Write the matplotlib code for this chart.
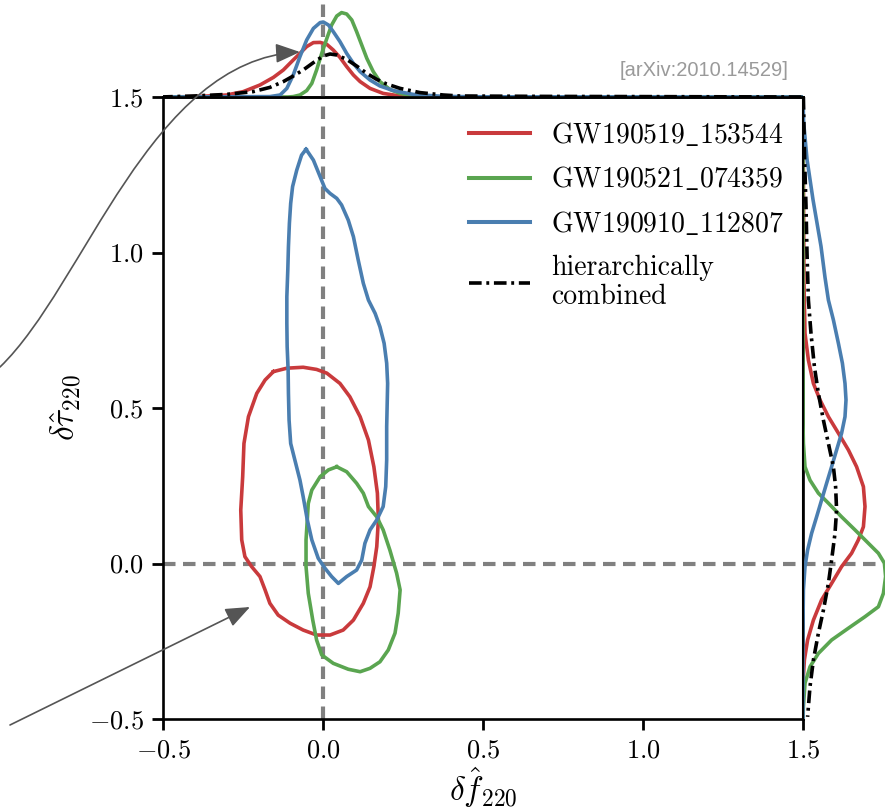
import numpy as np
import matplotlib
matplotlib.use('Agg')
import matplotlib.pyplot as plt
from matplotlib.patches import FancyArrowPatch
from matplotlib.path import Path

plt.rcParams['font.family'] = 'serif'
plt.rcParams['font.serif'] = ['cmr10']
plt.rcParams['mathtext.fontset'] = 'cm'
plt.rcParams['axes.formatter.use_mathtext'] = True

# ---- data ----
events = ['GW190519_153544', 'GW190521_074359', 'GW190910_112807']
colors = ['#c93a3c', '#5aa550', '#4a7eb0']
combined_label = 'hierarchically\ncombined'

# 90% credible contours (delta f, delta tau)
red_cx = [-0.155, -0.113, -0.062, -0.020, 0.012, 0.053, 0.084, 0.116, 0.142, 0.159,
          0.170, 0.173, 0.168, 0.159, 0.147, 0.126, 0.095, 0.063, 0.022, -0.020,
          -0.062, -0.103, -0.140, -0.166, -0.181, -0.197, -0.223, -0.244, -0.254, -0.257,
          -0.251, -0.247, -0.233, -0.207, -0.181]
red_cy = [0.617, 0.628, 0.631, 0.624, 0.612, 0.579, 0.536, 0.472, 0.397, 0.311,
          0.226, 0.140, 0.054, -0.010, -0.075, -0.128, -0.182, -0.214, -0.230, -0.230,
          -0.214, -0.192, -0.166, -0.128, -0.085, -0.042, -0.010, 0.022, 0.076, 0.172,
          0.279, 0.386, 0.472, 0.547, 0.590]

green_cx = [0.043, 0.074, 0.105, 0.126, 0.142, 0.168, 0.188, 0.209, 0.230, 0.241,
            0.235, 0.225, 0.204, 0.178, 0.147, 0.116, 0.079, 0.032, -0.004, -0.020,
            -0.032, -0.046, -0.053, -0.053, -0.046, -0.035, -0.009, 0.017]
green_cy = [0.311, 0.295, 0.258, 0.226, 0.183, 0.150, 0.108, 0.043, -0.031, -0.085,
            -0.160, -0.224, -0.278, -0.316, -0.337, -0.348, -0.340, -0.321, -0.294, -0.246,
            -0.182, -0.096, -0.010, 0.076, 0.193, 0.236, 0.279, 0.301]

blue_cx = [-0.053, -0.030, -0.009, 0.006, 0.022, 0.043, 0.058, 0.079, 0.095, 0.110,
           0.126, 0.142, 0.163, 0.178, 0.191, 0.199, 0.202, 0.199, 0.199, 0.196,
           0.188, 0.168, 0.147, 0.131, 0.121, 0.105, 0.074, 0.048, 0.027, 0.006,
           -0.015, -0.035, -0.049, -0.062, -0.072, -0.088, -0.101, -0.106, -0.108, -0.109,
           -0.112, -0.113, -0.113, -0.110, -0.108, -0.105, -0.101, -0.095, -0.082, -0.067]
blue_cy = [1.332, 1.297, 1.244, 1.206, 1.190, 1.174, 1.153, 1.104, 1.051, 0.976,
           0.901, 0.847, 0.804, 0.761, 0.708, 0.644, 0.579, 0.440, 0.333, 0.247,
           0.183, 0.140, 0.108, 0.065, 0.011, -0.021, -0.042, -0.064, -0.042, -0.015,
           0.017, 0.076, 0.140, 0.215, 0.268, 0.333, 0.386, 0.461, 0.547, 0.622,
           0.697, 0.772, 0.858, 0.944, 1.019, 1.094, 1.158, 1.212, 1.265, 1.313]

# marginal on delta f (top), arbitrary density units
red_fx = [-0.5, -0.40, -0.301, -0.249, -0.197, -0.155, -0.124, -0.093, -0.072, -0.051,
          -0.030, -0.009, 0.012, 0.032, 0.053, 0.074, 0.095, 0.116, 0.147, 0.188,
          0.241, 0.32, 1.5]
red_fp = [0.0, 0.02, 0.1, 0.27, 0.6, 0.98, 1.35, 1.85, 2.18, 2.52,
          2.72, 2.73, 2.63, 2.35, 1.98, 1.52, 1.1, 0.77, 0.43, 0.18,
          0.05, 0.0, 0.0]
green_fx = [-0.5, -0.11, -0.093, -0.072, -0.051, -0.035, -0.020, -0.004, 0.012, 0.027,
            0.043, 0.058, 0.074, 0.090, 0.105, 0.121, 0.137, 0.157, 0.178, 0.209,
            0.241, 0.282, 0.34, 1.5]
green_fp = [0.0, 0.0, 0.02, 0.1, 0.32, 0.68, 1.35, 2.18, 2.93, 3.6,
            4.05, 4.22, 4.15, 3.85, 3.27, 2.6, 1.93, 1.27, 0.77, 0.38,
            0.18, 0.05, 0.0, 0.0]
blue_fx = [-0.5, -0.166, -0.134, -0.113, -0.093, -0.072, -0.051, -0.030, -0.009, 0.001,
           0.017, 0.032, 0.053, 0.074, 0.095, 0.116, 0.147, 0.178, 0.220, 0.282,
           0.376, 0.5, 1.5]
blue_fp = [0.0, 0.02, 0.1, 0.43, 1.1, 2.02, 2.85, 3.43, 3.72, 3.75,
           3.6, 3.27, 2.77, 2.18, 1.68, 1.27, 0.85, 0.55, 0.32, 0.13,
           0.03, 0.01, 0.0]
comb_fx = [-0.509, -0.405, -0.301, -0.218, -0.166, -0.124, -0.093, -0.062, -0.030, 0.001,
           0.022, 0.043, 0.074, 0.105, 0.137, 0.168, 0.199, 0.241, 0.303, 0.376,
           0.428, 0.7, 1.0, 1.5]
comb_fp = [0.0, 0.05, 0.13, 0.27, 0.48, 0.77, 1.05, 1.35, 1.72, 2.05,
           2.15, 2.1, 1.88, 1.55, 1.18, 0.88, 0.65, 0.43, 0.22, 0.1,
           0.05, 0.03, 0.02, 0.0]

# marginal on delta tau (right), arbitrary density units
red_ty = [1.5, 0.9, 0.740, 0.654, 0.579, 0.526, 0.472, 0.419, 0.365, 0.311,
          0.247, 0.183, 0.118, 0.076, 0.033, -0.010, -0.064, -0.117, -0.182, -0.246,
          -0.310, -0.384, -0.5]
red_tp = [0.0, 0.05, 0.1, 0.27, 0.52, 0.85, 1.27, 1.77, 2.27, 2.68,
          3.02, 3.1, 3.02, 2.77, 2.43, 1.93, 1.43, 0.93, 0.52, 0.23,
          0.07, 0.0, 0.0]
green_ty = [1.5, 0.45, 0.386, 0.311, 0.268, 0.226, 0.194, 0.150, 0.108, 0.065,
            0.033, 0.001, -0.042, -0.096, -0.139, -0.171, -0.208, -0.246, -0.289, -0.332,
            -0.385, -0.460, -0.5]
green_tp = [0.0, 0.0, 0.02, 0.1, 0.35, 0.77, 1.27, 1.93, 2.6, 3.27,
            3.77, 4.07, 4.13, 4.02, 3.77, 3.1, 2.27, 1.43, 0.77, 0.35,
            0.1, 0.02, 0.0]
blue_ty = [1.5, 1.42, 1.30, 1.17, 1.02, 0.92, 0.847, 0.783, 0.708, 0.644,
           0.579, 0.526, 0.472, 0.419, 0.365, 0.311, 0.258, 0.204, 0.150, 0.097,
           0.043, -0.010, -0.085, -0.2, -0.5]
blue_tp = [0.0, 0.03, 0.2, 0.5, 0.9, 1.1, 1.27, 1.52, 1.77, 1.97,
           2.1, 2.15, 2.1, 1.93, 1.68, 1.43, 1.18, 0.93, 0.68, 0.43,
           0.23, 0.1, 0.02, 0.0, 0.0]
comb_ty = [1.5, 1.3, 1.15, 1.0, 0.847, 0.740, 0.633, 0.547, 0.461, 0.386,
           0.311, 0.247, 0.172, 0.097, 0.011, -0.064, -0.150, -0.224, -0.310, -0.396,
           -0.493]
comb_tp = [0.02, 0.08, 0.15, 0.2, 0.27, 0.4, 0.57, 0.77, 1.02, 1.27,
           1.52, 1.63, 1.68, 1.6, 1.43, 1.27, 1.02, 0.77, 0.52, 0.35,
           0.23]

ticks = [-0.5, 0.0, 0.5, 1.0, 1.5]

contours = [(red_cx, red_cy), (green_cx, green_cy), (blue_cx, blue_cy)]
f_marg = [(red_fx, red_fp), (green_fx, green_fp), (blue_fx, blue_fp)]
t_marg = [(red_ty, red_tp), (green_ty, green_tp), (blue_ty, blue_tp)]

W, H = 885, 811
fig = plt.figure(figsize=(W / 100, H / 100), dpi=100)

def px_box(left, top, right, bottom):
    return [left / W, 1 - bottom / H, (right - left) / W, (bottom - top) / H]

ax = fig.add_axes(px_box(163, 97, 803, 719))
ax_top = fig.add_axes(px_box(163, 0, 803, 97), sharex=ax)
ax_right = fig.add_axes(px_box(803, 97, 885, 719), sharey=ax)

lw = 2.6
dash_gray = dict(color='#808080', lw=3.0, ls=(0, (3, 1.8)), zorder=1)
comb_style = dict(color='black', lw=lw, ls=(0, (3.5, 1.3, 0.8, 1.3)))

# main panel
ax.axvline(0, **dash_gray)
ax.axhline(0, **dash_gray)
for (cx, cy), c, name in zip(contours, colors, events):
    ax.plot(cx + cx[:1], cy + cy[:1], color=c, lw=lw)
    ax.plot([], [], color=c, lw=lw + 0.3, label=r'$\mathrm{' + name.replace('_', r'\_') + '}$')
ax.plot([], [], label=combined_label, **comb_style)

ax.set_xlim(-0.5, 1.5)
ax.set_ylim(-0.5, 1.5)
ax.set_xticks(ticks)
ax.set_yticks(ticks)
ax.tick_params(direction='out', length=8, width=2, labelsize=19, pad=6)
for s in ax.spines.values():
    s.set_linewidth(1.9)
ax.set_xlabel(r'$\delta\hat{f}_{220}$', fontsize=24)
ax.set_ylabel(r'$\delta\hat{\tau}_{220}$', fontsize=24)
ax.xaxis.set_label_coords(0.5, -0.075)
ax.yaxis.set_label_coords(-0.125, 0.5)

leg = ax.legend(loc='upper left', bbox_to_anchor=(0.478, 0.962), frameon=False,
                fontsize=20, handlelength=2.2, handletextpad=0.75, labelspacing=0.6,
                borderpad=0, borderaxespad=0)
leg.get_texts()[3].set_linespacing(1.15)

# top marginal
ax_top.axvline(0, **dash_gray)
for (fx, fp), c in zip(f_marg, colors):
    ax_top.plot(fx, fp, color=c, lw=lw)
ax_top.plot(comb_fx, comb_fp, **comb_style)
ax_top.set_ylim(0, 4.85)
ax_top.axis('off')
ax_top.plot([0, 1], [0, 0], color='black', lw=1.9, transform=ax_top.transAxes, clip_on=False)

# right marginal
ax_right.axhline(0, **dash_gray)
for (ty, tp), c in zip(t_marg, colors):
    ax_right.plot(tp, ty, color=c, lw=lw)
ax_right.plot(comb_tp, comb_ty, **comb_style)
ax_right.set_xlim(0, 4.1)
ax_right.axis('off')
ax_right.plot([0, 0], [0, 1], color='black', lw=1.5, transform=ax_right.transAxes, clip_on=False)

# annotation arrows (figure pixel positions)
def fpos(x, y):
    return (x / W, 1 - y / H)

arrow_kw = dict(transform=fig.transFigure, arrowstyle='-|>,head_length=0.75,head_width=0.3',
                mutation_scale=20, color='#555555', lw=1.2)
curve = Path([fpos(0, 367), fpos(85, 285), fpos(150, 60), fpos(300, 52)],
             [Path.MOVETO, Path.CURVE4, Path.CURVE4, Path.CURVE4])
fig.add_artist(FancyArrowPatch(path=curve, **arrow_kw))
fig.add_artist(FancyArrowPatch(fpos(10, 725), fpos(250, 607), shrinkA=0, shrinkB=0, **arrow_kw))

fig.text(620 / W, 1 - 70 / H, '[arXiv:2010.14529]', color='#9a9a9a', fontsize=14.5,
         family='Liberation Sans', va='center', ha='left')

fig.savefig('out.png', dpi=100)
